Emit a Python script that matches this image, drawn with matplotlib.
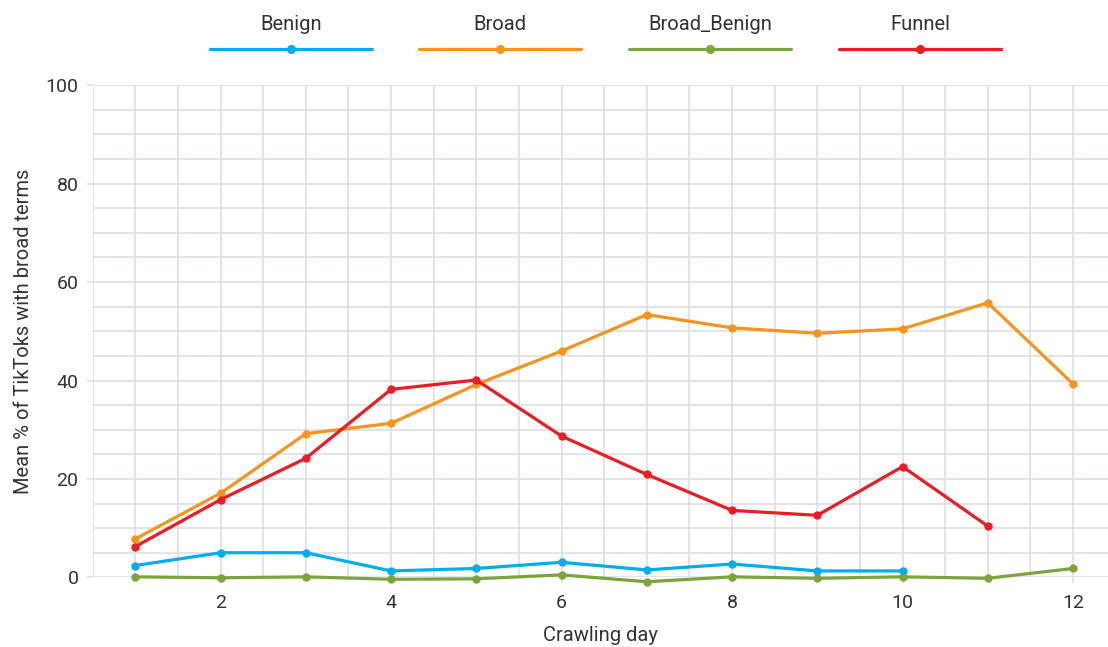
import matplotlib
matplotlib.use("Agg")
import matplotlib.pyplot as plt
from matplotlib.lines import Line2D
from matplotlib.ticker import MultipleLocator

plt.rcParams['font.family'] = ['Roboto', 'DejaVu Sans']

# data
days = [1, 2, 3, 4, 5, 6, 7, 8, 9, 10, 11, 12]
benign = [2.4, 5.0, 5.0, 1.3, 1.8, 3.05, 1.5, 2.7, 1.3, 1.3]
broad = [7.8, 17.1, 29.2, 31.3, 39.2, 46.0, 53.4, 50.7, 49.6, 50.5, 55.8, 39.3]
broad_benign = [0.1, -0.1, 0.1, -0.4, -0.3, 0.5, -0.9, 0.1, -0.2, 0.1, -0.2, 1.8]
funnel = [6.25, 15.8, 24.2, 38.2, 40.1, 28.7, 20.9, 13.6, 12.6, 22.5, 10.4]

series_names = ['Benign', 'Broad', 'Broad_Benign', 'Funnel']
series_values = [benign, broad, broad_benign, funnel]
colors = ['#00AEEF', '#F7941D', '#7CA43B', '#ED1C24']

grid_col = '#D9DDE2'
text_col = '#333333'

fig = plt.figure(figsize=(11.08, 6.47), dpi=100)
ax = fig.add_axes([0.0837, 0.1077, 1 - 0.0837, 0.8682 - 0.1077])

for name, vals, c in zip(series_names, series_values, colors):
    ax.plot(days[:len(vals)], vals, color=c, lw=2.3, marker='o', ms=5,
            clip_on=False, zorder=3, solid_capstyle='round')

ax.set_xlim(0.5, 12.41)
ax.set_ylim(0, 100)
ax.xaxis.set_major_locator(MultipleLocator(2))
ax.xaxis.set_minor_locator(MultipleLocator(0.5))
ax.yaxis.set_major_locator(MultipleLocator(20))
ax.yaxis.set_minor_locator(MultipleLocator(5))
ax.grid(which='both', color=grid_col, lw=1.1)
ax.set_axisbelow(True)
for s in ax.spines.values():
    s.set_visible(False)
ax.tick_params(which='major', length=4.3, width=1.1, color=grid_col,
               labelsize=14, labelcolor=text_col)
ax.tick_params(axis='y', which='major', pad=6)
ax.tick_params(axis='x', which='major', pad=8)
ax.tick_params(which='minor', length=0)

ax.set_xlabel('Crawling day', fontsize=14.5, color=text_col, labelpad=10)
ax.set_ylabel('Mean % of TikToks with broad terms', fontsize=14.5, color=text_col, labelpad=9)

# legend on top: label above a line key with a marker in the middle
centers = [291, 500, 710, 920]
W, H = 1108, 647
for name, c, cx in zip(series_names, colors, centers):
    x0, x1 = (cx - 81) / W, (cx + 81) / W
    y = 1 - 49 / H
    fig.add_artist(Line2D([x0, x1], [y, y], color=c, lw=2.3, solid_capstyle='round',
                          transform=fig.transFigure))
    fig.add_artist(Line2D([cx / W], [y], color=c, marker='o', ms=5.5,
                          transform=fig.transFigure))
    fig.text(cx / W, 1 - 25 / H, name, ha='center', va='center', fontsize=14.5, color=text_col)

fig.savefig('out.png', dpi=100)
